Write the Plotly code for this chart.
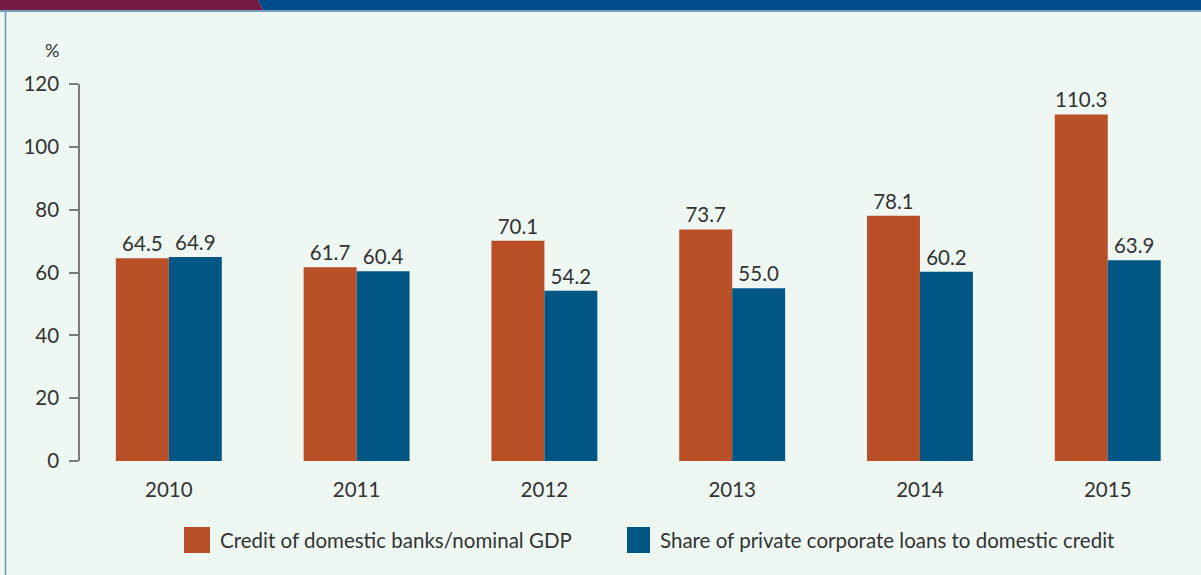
import plotly.graph_objects as go

# Data
years = ["2010", "2011", "2012", "2013", "2014", "2015"]
credit_gdp = [64.5, 61.7, 70.1, 73.7, 78.1, 110.3]
private_share = [64.9, 60.4, 54.2, 55.0, 60.2, 63.9]
series_names = ["Credit of domestic banks/nominal GDP",
                "Share of private corporate loans to domestic credit"]
y_ticks = [0, 20, 40, 60, 80, 100, 120]

ORANGE = "#B84F27"
BLUE = "#025683"
BG = "#EEF7F2"
FONT = "Lato, 'Open Sans', sans-serif"
TXT = "#333333"
FS = 20.5

W, H = 1201, 575
ML, MR, MT, MB = 80, 5, 84, 114
PW, PH = W - ML - MR, H - MT - MB


def px(x):
    return (x - ML) / PW


def py(y):
    return (H - MB - y) / PH


fig = go.Figure()
for vals, color, name in [(credit_gdp, ORANGE, series_names[0]),
                          (private_share, BLUE, series_names[1])]:
    fig.add_trace(go.Bar(
        x=years, y=vals, name=name, marker=dict(color=color, line=dict(width=0)),
        text=[f"{v:.1f}" for v in vals], textposition="outside",
        textfont=dict(family=FONT, size=FS, color=TXT), cliponaxis=False,
    ))

shapes = []
# header band
shapes.append(dict(type="path", xref="paper", yref="paper",
                   path=f"M {px(0)},{py(0)} L {px(258)},{py(0)} L {px(263)},{py(10)} L {px(0)},{py(10)} Z",
                   fillcolor="#751A42", line=dict(width=0), layer="below"))
shapes.append(dict(type="path", xref="paper", yref="paper",
                   path=f"M {px(258)},{py(0)} L {px(W)},{py(0)} L {px(W)},{py(10)} L {px(263)},{py(10)} Z",
                   fillcolor="#004B8A", line=dict(width=0), layer="below"))
shapes.append(dict(type="line", xref="paper", yref="paper",
                   x0=px(0), x1=px(W), y0=py(11), y1=py(11),
                   line=dict(color="#4F7FAE", width=1.5)))
# left frame line
shapes.append(dict(type="line", xref="paper", yref="paper",
                   x0=px(5.5), x1=px(5.5), y0=py(11), y1=py(H),
                   line=dict(color="#6E93BC", width=1.5)))

# legend keys
legend_items = [(184, 26, ORANGE, series_names[0], 218),
                (627, 23, BLUE, series_names[1], 658)]
annotations = []
for x0, w, color, name, tx in legend_items:
    shapes.append(dict(type="rect", xref="paper", yref="paper",
                       x0=px(x0), x1=px(x0 + w), y0=py(527), y1=py(553),
                       fillcolor=color, line=dict(width=0)))
    annotations.append(dict(xref="paper", yref="paper", x=px(tx), y=py(540),
                            text=name, showarrow=False, xanchor="left", yanchor="middle",
                            font=dict(family=FONT, size=FS, color=TXT)))

annotations.append(dict(xref="paper", yref="paper", x=px(52), y=py(50), text="%",
                        showarrow=False, xanchor="center", yanchor="middle",
                        font=dict(family=FONT, size=18, color=TXT)))

fig.update_layout(
    width=W, height=H,
    margin=dict(l=ML, r=MR, t=MT, b=MB),
    paper_bgcolor=BG, plot_bgcolor=BG,
    barmode="group", bargap=0.436, bargroupgap=0,
    showlegend=False,
    shapes=shapes, annotations=annotations,
    font=dict(family=FONT, color=TXT),
    xaxis=dict(range=[-0.473, 5.47], showgrid=False, zeroline=False, showline=False,
               ticks="", tickfont=dict(family=FONT, size=FS, color=TXT),
               ticklabelstandoff=14),
    yaxis=dict(range=[0, 120], tickvals=y_ticks, showgrid=False, zeroline=False,
               showline=True, linecolor="#7a7a7a", linewidth=1.5,
               ticks="outside", ticklen=9, tickcolor="#7a7a7a", tickwidth=1.5,
               tickfont=dict(family=FONT, size=FS, color=TXT), ticklabelstandoff=6),
)

fig.write_html("out.html")
